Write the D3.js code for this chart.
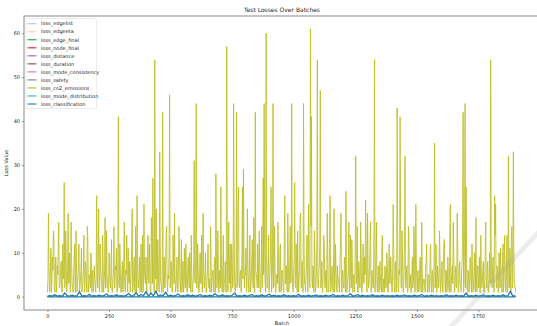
<!DOCTYPE html>
<html>
<head>
<meta charset="utf-8">
<script src="https://cdn.jsdelivr.net/npm/d3@7"></script>
<style>
  body { margin: 0; background: #fff; }
  svg text { font-family: "DejaVu Sans", sans-serif; fill: #262626; }
</style>
</head>
<body>
<div id="chart"></div>
<script>
// co2 emissions loss, readings at batches 0, 4, 8 ... 1904 (one row per 100 batches)
var co2Loss = [
  1,19,2,6,1,9,15,2,5,1,7,12,2,4,8,1,5,26,3,10,2,19,4,1,17,
  3,1,8,2,15,1,5,12,2,6,1,4,14,2,7,1,13,3,5,10,1,6,2,4,1,
  23,2,20,1,7,3,14,1,6,2,15,3,1,8,2,13,1,5,2,7,11,1,41,2,6,
  1,8,2,17,1,5,2,11,3,1,6,20,2,9,1,4,23,2,6,1,12,3,1,21,4,
  9,1,14,3,6,1,11,27,2,54,4,1,13,2,33,3,1,42,5,2,8,16,1,4,46,
  2,6,1,10,19,1,5,2,7,12,1,13,3,1,11,2,6,1,9,2,5,14,1,4,31,
  3,44,2,7,1,10,3,1,19,2,6,1,4,12,2,1,11,3,6,1,8,28,2,15,1,
  6,25,2,7,1,4,2,57,1,17,3,1,12,2,44,3,1,42,4,25,2,6,1,25,29,
  2,5,1,20,3,7,1,4,13,2,1,42,5,2,8,15,1,6,2,27,44,3,60,2,7,
  1,6,25,2,44,3,8,1,5,17,2,10,1,6,3,1,23,4,2,19,1,7,3,44,2,
  5,26,2,7,15,1,6,19,2,4,44,3,1,8,2,21,3,61,41,2,6,15,1,5,54,
  2,7,47,3,1,6,12,2,5,19,1,4,23,2,7,1,20,3,6,1,4,2,8,19,1,
  5,2,7,24,1,4,17,2,6,13,1,5,2,32,3,1,8,2,17,1,6,3,9,22,2,
  19,2,6,17,1,4,2,54,3,17,1,7,2,5,1,14,3,1,6,2,8,1,12,3,5,
  1,21,3,7,1,43,2,6,41,2,15,1,5,32,2,7,1,14,3,1,6,2,16,1,21,
  3,6,1,8,2,17,1,4,2,7,12,1,5,2,12,1,6,2,35,3,1,7,2,15,1,
  5,2,8,13,1,6,2,4,1,21,3,7,17,1,5,2,19,1,6,3,1,8,42,3,44,
  25,2,6,1,9,3,12,1,5,2,18,1,7,3,1,14,2,6,1,4,17,2,8,1,10,
  54,3,7,2,23,21,2,6,1,4,11,2,7,1,14,3,6,1,32,2,5,14,2,33,4,
  2,1
];
// co2 emissions loss, the readings in between, at batches 2, 6, 10 ... 1902
var co2LossMid = [
  4,8,1,11,3,6,14,1,9,3,5,17,2,7,1,12,4,2,15,1,6,3,10,2,8,
  2,5,12,1,7,3,9,1,4,11,2,6,1,8,3,16,1,5,2,9,4,1,7,3,5,
  6,9,2,12,4,1,8,3,18,2,5,1,10,3,7,1,4,16,2,6,1,9,3,12,1,
  5,1,10,3,6,14,1,4,8,2,12,1,5,3,16,1,7,2,9,4,1,14,2,6,3,
  2,7,4,12,1,18,3,9,1,5,20,2,8,1,12,3,6,1,9,2,14,3,5,10,2,
  8,1,14,3,5,2,9,1,16,3,6,1,8,2,4,12,1,7,3,10,1,5,2,8,4,
  9,2,12,1,5,3,14,1,8,2,10,1,6,3,4,16,1,5,2,9,1,12,3,6,4,
  2,10,1,14,3,8,1,18,2,6,12,1,9,3,16,1,7,2,20,3,5,1,12,4,8,
  5,11,2,7,1,14,2,9,3,18,1,6,4,12,2,8,1,16,3,5,12,1,9,2,14,
  4,12,1,8,2,16,1,5,3,9,1,12,2,6,1,14,3,7,1,10,2,16,4,6,1,
  9,3,12,1,6,4,18,2,8,1,12,3,5,14,1,9,2,16,4,7,1,10,2,13,3,
  5,12,2,8,1,14,3,6,1,10,2,16,1,5,3,9,1,12,2,7,4,1,11,3,6,
  2,9,1,12,3,6,1,14,2,8,4,1,10,3,16,1,6,2,9,1,12,3,5,14,1,
  7,3,12,1,6,2,16,1,9,3,5,1,8,2,11,1,4,7,2,10,1,6,3,9,2,
  6,12,1,8,3,14,1,5,18,2,9,1,12,3,6,1,16,2,5,1,9,3,12,2,8,
  1,5,2,9,1,6,3,4,1,8,2,5,1,10,3,6,1,7,2,12,1,5,3,9,2,
  8,1,12,3,6,1,9,2,14,1,5,3,11,1,7,2,12,1,8,3,5,14,1,16,2,
  9,1,5,3,8,1,6,2,10,1,4,7,2,9,1,5,3,8,1,12,2,6,1,4,3,
  12,2,9,1,14,3,7,1,10,2,6,1,12,3,8,1,14,2,5,11,1,16,3,9,2,
  1
];
var co2Step = 4;

// classification loss, one reading every 10 batches
var clsStep = 10;
var clsLoss = [
  0.1,0.2,0.1,0.4,0.1,0.2,0.1,0.8,0.2,0.1,0.3,0.1,0.2,1.1,0.1,0.2,0.1,0.5,0.1,0.2,
  0.1,0.3,0.1,0.2,0.6,0.1,0.2,0.1,0.4,0.1,0.2,0.1,0.3,0.7,0.1,0.2,0.9,0.1,0.5,0.2,
  1.1,0.1,0.8,0.2,1.2,0.1,0.4,0.2,1.0,0.1,0.3,0.1,0.2,0.6,0.1,0.2,0.1,0.4,0.1,0.3,
  0.1,0.2,0.5,0.1,0.2,0.1,0.3,0.1,0.7,0.2,0.1,0.4,0.1,0.2,0.1,0.3,0.8,0.1,0.2,0.1,
  0.3,0.1,0.2,0.5,0.1,0.2,0.1,0.4,0.1,0.2,0.6,0.1,0.3,0.1,0.2,0.1,0.4,0.1,0.2,0.1,
  0.2,0.1,0.5,0.1,0.2,0.1,0.3,0.1,0.2,0.4,0.1,0.2,0.1,0.3,0.1,0.2,0.5,0.1,0.2,0.1,
  0.3,0.1,0.2,0.7,0.1,0.2,0.5,0.1,0.3,0.1,0.2,0.1,0.4,0.1,0.2,0.1,0.3,0.1,0.2,0.1,
  0.2,0.1,0.3,0.1,0.2,0.4,0.1,0.2,0.1,0.3,0.1,0.2,0.5,0.1,0.2,0.1,0.3,0.1,0.2,0.1,
  0.2,0.1,0.4,0.1,0.2,0.1,0.3,0.1,0.2,0.1,0.8,0.1,0.2,0.1,0.3,0.1,0.2,0.4,0.1,0.2,
  0.1,0.3,0.1,0.2,0.1,0.4,0.1,0.2,1.2,0.1,0.2
];

// the other losses sit on zero the whole run, one reading every 100 batches
var flatStep = 100;
var edgelistLoss = [0,0,0,0,0,0,0,0,0,0,0,0,0,0,0,0,0,0,0,0];
var edgeetaLoss = [0,0,0,0,0,0,0,0,0,0,0,0,0,0,0,0,0,0,0,0];
var edgeFinalLoss = [0,0,0,0,0,0,0,0,0,0,0,0,0,0,0,0,0,0,0,0];
var nodeFinalLoss = [0,0,0,0,0,0,0,0,0,0,0,0,0,0,0,0,0,0,0,0];
var distanceLoss = [0,0,0,0,0,0,0,0,0,0,0,0,0,0,0,0,0,0,0,0];
var durationLoss = [0,0,0,0,0,0,0,0,0,0,0,0,0,0,0,0,0,0,0,0];
var modeConsLoss = [0,0,0,0,0,0,0,0,0,0,0,0,0,0,0,0,0,0,0,0];
var safetyLoss = [0,0,0,0,0,0,0,0,0,0,0,0,0,0,0,0,0,0,0,0];
var modeDistLoss = [0,0,0,0,0,0,0,0,0,0,0,0,0,0,0,0,0,0,0,0];

var xTicks = [0, 250, 500, 750, 1000, 1250, 1500, 1750];
var yTicks = [0, 10, 20, 30, 40, 50, 60];

// merge the two co2 reading lists into batch order
var co2Points = [];
co2Loss.forEach(function(v, i) {
  co2Points.push([i * co2Step, v]);
  if (i < co2LossMid.length) co2Points.push([i * co2Step + co2Step / 2, co2LossMid[i]]);
});

function toPoints(values, step) {
  return values.map(function(v, i) { return [i * step, v]; });
}

var series = [
  {name: "loss_edgelist", pts: toPoints(edgelistLoss, flatStep), color: "#1f77b4", opacity: 0.4},
  {name: "loss_edgeeta", pts: toPoints(edgeetaLoss, flatStep), color: "#ff7f0e", opacity: 0.4},
  {name: "loss_edge_final", pts: toPoints(edgeFinalLoss, flatStep), color: "#2ca02c", opacity: 1},
  {name: "loss_node_final", pts: toPoints(nodeFinalLoss, flatStep), color: "#d62728", opacity: 1},
  {name: "loss_distance", pts: toPoints(distanceLoss, flatStep), color: "#9467bd", opacity: 1},
  {name: "loss_duration", pts: toPoints(durationLoss, flatStep), color: "#8c564b", opacity: 1},
  {name: "loss_mode_consistency", pts: toPoints(modeConsLoss, flatStep), color: "#e377c2", opacity: 1},
  {name: "loss_safety", pts: toPoints(safetyLoss, flatStep), color: "#7f7f7f", opacity: 1},
  {name: "loss_co2_emissions", pts: co2Points, color: "#bcbd22", opacity: 1},
  {name: "loss_mode_distribution", pts: toPoints(modeDistLoss, flatStep), color: "#17becf", opacity: 1},
  {name: "loss_classification", pts: toPoints(clsLoss, clsStep), color: "#1f77b4", opacity: 1}
];

// set the dimensions and margins of the graph
var W = 537, H = 326;
var margin = {top: 16, right: -3, bottom: 16, left: 24},
    width = W - margin.left - margin.right,
    height = H - margin.top - margin.bottom;

var xMax = 1905;
var x = d3.scaleLinear()
    .domain([-xMax * 0.05, xMax * 1.05])
    .range([0, width]);
var y = d3.scaleLinear()
    .domain([-3.05, 63.95])
    .range([height, 0]);

var svg = d3.select("#chart").append("svg")
    .attr("width", W)
    .attr("height", H)
    .style("display", "block");

var g = svg.append("g")
    .attr("transform", "translate(" + margin.left + "," + margin.top + ")");

g.append("clipPath").attr("id", "clip")
  .append("rect").attr("width", width).attr("height", height);

var line = d3.line()
    .x(function(d) { return x(d[0]); })
    .y(function(d) { return y(d[1]); });

var plot = g.append("g").attr("clip-path", "url(#clip)");

series.forEach(function(s) {
  var co2 = s.name == "loss_co2_emissions";
  plot.append("path")
      .datum(s.pts)
      .attr("fill", "none")
      .attr("stroke", s.color)
      .attr("stroke-opacity", co2 ? 0.85 : s.opacity)
      .attr("stroke-width", co2 ? 1.0 : (s.name == "loss_classification" ? 1.3 : 1))
      .attr("stroke-linejoin", "miter")
      .attr("d", line);
});

// axes
var xAxis = g.append("g")
    .attr("transform", "translate(0," + height + ")")
    .call(d3.axisBottom(x).tickValues(xTicks).tickFormat(d3.format("d")).tickSize(2).tickPadding(2));
var yAxis = g.append("g")
    .call(d3.axisLeft(y).tickValues(yTicks).tickSize(2).tickPadding(2));

[xAxis, yAxis].forEach(function(a) {
  a.selectAll("text").style("font-size", "5px").attr("fill", "#262626");
  a.selectAll("line").attr("stroke", "#555").attr("stroke-width", 0.6);
  a.select(".domain").remove();
});

// spines
g.append("rect")
    .attr("x", 0).attr("y", 0)
    .attr("width", width).attr("height", height)
    .attr("fill", "none")
    .attr("stroke", "#6b6b6b")
    .attr("stroke-width", 0.8);

// title and labels
svg.append("text")
    .attr("x", margin.left + width / 2)
    .attr("y", 12)
    .attr("text-anchor", "middle")
    .style("font-size", "6px")
    .text("Test Losses Over Batches");

svg.append("text")
    .attr("x", margin.left + width / 2)
    .attr("y", 324.5)
    .attr("text-anchor", "middle")
    .style("font-size", "5px")
    .text("Batch");

svg.append("text")
    .attr("transform", "translate(8," + (margin.top + height / 2) + ") rotate(-90)")
    .attr("text-anchor", "middle")
    .style("font-size", "5px")
    .text("Loss Value");

// legend
var legend = svg.append("g").attr("transform", "translate(26,18.5)");
legend.append("rect")
    .attr("width", 70.5).attr("height", 90)
    .attr("rx", 1.2)
    .attr("fill", "#fff")
    .attr("fill-opacity", 0.8)
    .attr("stroke", "#ddd")
    .attr("stroke-width", 0.6);

series.forEach(function(s, i) {
  var row = legend.append("g").attr("transform", "translate(0," + (5.2 + i * 8.03) + ")");
  row.append("line")
      .attr("x1", 1.5).attr("x2", 10.5)
      .attr("stroke", s.color)
      .attr("stroke-opacity", s.opacity)
      .attr("stroke-width", 1.1);
  row.append("text")
      .attr("x", 15)
      .attr("dy", "0.35em")
      .style("font-size", "5px")
      .text(s.name);
});

// faint diagonal smear in the lower right corner of the source picture
svg.append("line")
    .attr("x1", 448).attr("y1", 330)
    .attr("x2", 545).attr("y2", 225)
    .attr("stroke", "#999")
    .attr("stroke-opacity", 0.18)
    .attr("stroke-width", 5)
    .attr("stroke-linecap", "round");
</script>
</body>
</html>
